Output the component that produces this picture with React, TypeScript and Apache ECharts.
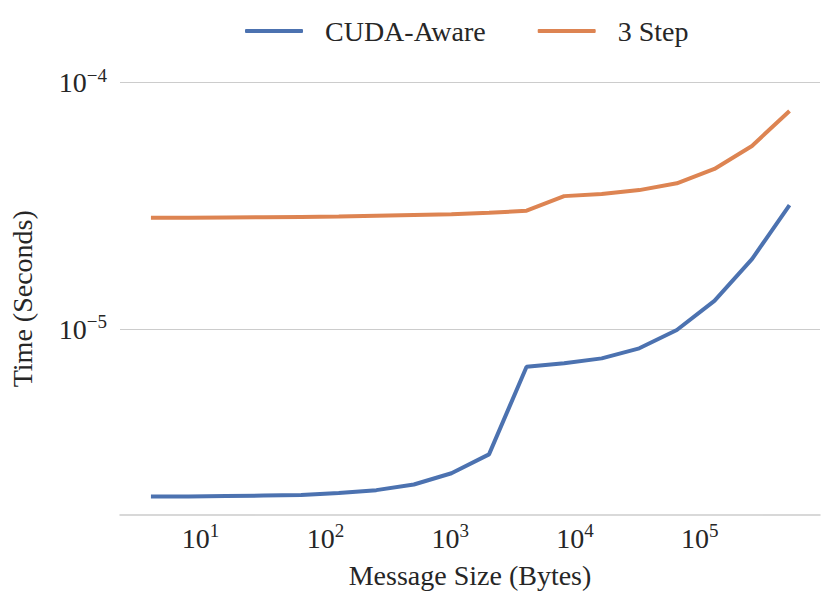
import React, { useEffect, useRef } from "react";
import * as echarts from "echarts";

const messageSizes = [4, 8, 16, 32, 64, 128, 256, 512, 1024, 2048, 4096, 8192, 16384, 32768, 65536, 131072, 262144, 524288];
const cudaAware = [2.09e-6, 2.09e-6, 2.1e-6, 2.11e-6, 2.12e-6, 2.16e-6, 2.22e-6, 2.34e-6, 2.6e-6, 3.1e-6, 7.03e-6, 7.26e-6, 7.6e-6, 8.35e-6, 9.91e-6, 1.3e-5, 1.92e-5, 3.18e-5];
const threeStep = [2.83e-5, 2.83e-5, 2.835e-5, 2.84e-5, 2.85e-5, 2.86e-5, 2.88e-5, 2.9e-5, 2.92e-5, 2.96e-5, 3.02e-5, 3.46e-5, 3.53e-5, 3.66e-5, 3.9e-5, 4.46e-5, 5.53e-5, 7.66e-5];
const seriesNames = ["CUDA-Aware", "3 Step"];

const FONT = "Liberation Serif";
const TEXT = "#262626";

function powLabel(v: number): string {
  const e = Math.log10(v);
  const r = Math.round(e);
  if (Math.abs(e - r) > 1e-6) return "";
  const exp = r < 0 ? "\u2212" + Math.abs(r) : String(r);
  return "{b|10}{s|" + exp + "}";
}

const rich = {
  b: { fontSize: 28, fontFamily: FONT, color: TEXT },
  s: { fontSize: 19, fontFamily: FONT, color: TEXT, padding: [0, 0, 15, 0] },
};

export default function App() {
  const ref = useRef<HTMLDivElement>(null);
  useEffect(() => {
    if (!ref.current) return;
    const chart = echarts.init(ref.current, undefined, { renderer: "svg" });
    chart.setOption({
      animation: false,
      backgroundColor: "#ffffff",
      textStyle: { fontFamily: FONT, color: TEXT },
      legend: {
        left: 240,
        top: 12,
        icon: "roundRect",
        itemWidth: 58,
        itemHeight: 4,
        itemGap: 52,
        textStyle: { fontSize: 28, fontFamily: FONT, color: TEXT, padding: [0, 0, 0, 17] },
        data: seriesNames,
      },
      grid: { left: 116, right: 11, top: 82.5, bottom: 87 },
      xAxis: {
        type: "log",
        logBase: 10,
        min: 2.26,
        max: 920000,
        name: "Message Size (Bytes)",
        nameLocation: "middle",
        nameGap: 46,
        nameTextStyle: { fontSize: 28, fontFamily: FONT, color: TEXT },
        axisLine: { show: true, lineStyle: { color: "#cccccc", width: 1.5 } },
        axisTick: { show: false },
        splitLine: { show: false },
        minorTick: { show: false },
        axisLabel: { formatter: powLabel, rich, fontSize: 28, fontFamily: FONT, color: TEXT, margin: 6 },
      },
      yAxis: {
        type: "log",
        logBase: 10,
        min: 1.76e-6,
        max: 1e-4,
        name: "Time (Seconds)",
        nameLocation: "middle",
        nameGap: 84,
        nameTextStyle: { fontSize: 28, fontFamily: FONT, color: TEXT },
        axisLine: { show: false },
        axisTick: { show: false },
        splitLine: { show: true, showMinLine: false, lineStyle: { color: "#cccccc", width: 1.2 } },
        axisLabel: { formatter: powLabel, rich, fontSize: 28, fontFamily: FONT, color: TEXT, margin: 13 },
      },
      series: [
        {
          name: seriesNames[0],
          type: "line",
          symbol: "none",
          data: messageSizes.map((s, i) => [s, cudaAware[i]]),
          lineStyle: { color: "#4C72B0", width: 4 },
          itemStyle: { color: "#4C72B0" },
        },
        {
          name: seriesNames[1],
          type: "line",
          symbol: "none",
          data: messageSizes.map((s, i) => [s, threeStep[i]]),
          lineStyle: { color: "#DD8452", width: 4 },
          itemStyle: { color: "#DD8452" },
        },
      ],
    });
    return () => chart.dispose();
  }, []);
  return <div ref={ref} style={{ position: "absolute", left: 0, top: 0, width: 831, height: 602 }} />;
}
